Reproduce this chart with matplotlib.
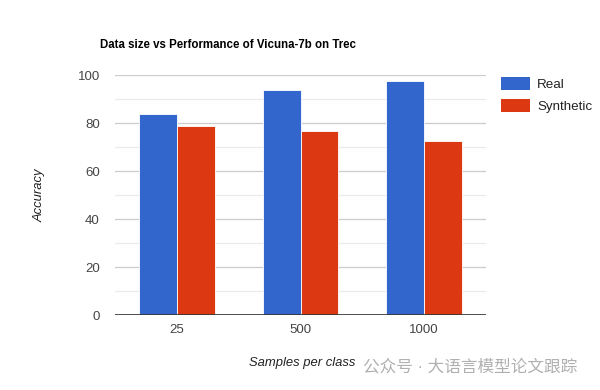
import numpy as np
import matplotlib.pyplot as plt
from matplotlib.patches import Patch

# ===== 字体 =====
plt.rcParams['font.family'] = ['Liberation Sans', 'Noto Sans CJK SC', 'DejaVu Sans']

# ===== 数据 =====
categories = ['25', '500', '1000']
real = [84, 94, 97.6]
synthetic = [79, 77, 72.7]
series_names = ['Real', 'Synthetic']
colors = ['#3366CC', '#DC3912']

# ===== 绘图 =====
fig = plt.figure(figsize=(6, 3.9), dpi=100)
ax = fig.add_axes([0.1917, 0.1915, 0.6183, 0.6154])

x = np.arange(len(categories))
w = 0.307
ax.bar(x - w / 2, real, width=w, color=colors[0], edgecolor='white', linewidth=0.6, zorder=3)
ax.bar(x + w / 2, synthetic, width=w, color=colors[1], edgecolor='white', linewidth=0.6, zorder=3)

ax.set_xlim(-0.5, len(categories) - 0.5)
ax.set_ylim(0, 100)
ax.set_yticks(np.arange(0, 101, 20))
ax.set_yticks(np.arange(10, 100, 20), minor=True)
ax.set_xticks(x)
ax.set_xticklabels(categories)

# 网格
ax.grid(axis='y', which='major', color='#cccccc', linewidth=0.9, zorder=0)
ax.grid(axis='y', which='minor', color='#ebebeb', linewidth=0.9, zorder=0)
ax.axhline(0, color='#333333', linewidth=1.2, zorder=4)

for s in ax.spines.values():
    s.set_visible(False)
ax.tick_params(axis='both', which='both', length=0, labelsize=9.5, labelcolor='#444444')
ax.tick_params(axis='y', pad=11)
ax.tick_params(axis='x', pad=6)

# ===== 标注 =====
fig.text(100 / 600, 1 - 45 / 390, 'Data size vs Performance of Vicuna-7b on Trec',
         fontsize=8.3, fontweight='bold', color='#000000', va='center', ha='left')
fig.text(40 / 600, 1 - 195 / 390, 'Accuracy', rotation=90, fontsize=9.4, style='italic',
         color='#222222', ha='center', va='center')
fig.text(302 / 600, 1 - 363 / 390, 'Samples per class', fontsize=9.4, style='italic',
         color='#222222', ha='center', va='center')

# 水印
fig.text(363 / 600, 1 - 367 / 390, '公众号 · 大语言模型论文跟踪', fontsize=12,
         color='#b0b0b0', ha='left', va='center')

# ===== 图例 =====
handles = [Patch(facecolor=c, edgecolor='none') for c in colors]
fig.legend(handles, series_names, loc='upper left', bbox_to_anchor=(489 / 600, 1 - 65 / 390),
           frameon=False, fontsize=9.6, handlelength=2.2, handleheight=1.1,
           handletextpad=0.5, labelspacing=0.6, labelcolor='#222222')

fig.savefig('out.png', dpi=100)
